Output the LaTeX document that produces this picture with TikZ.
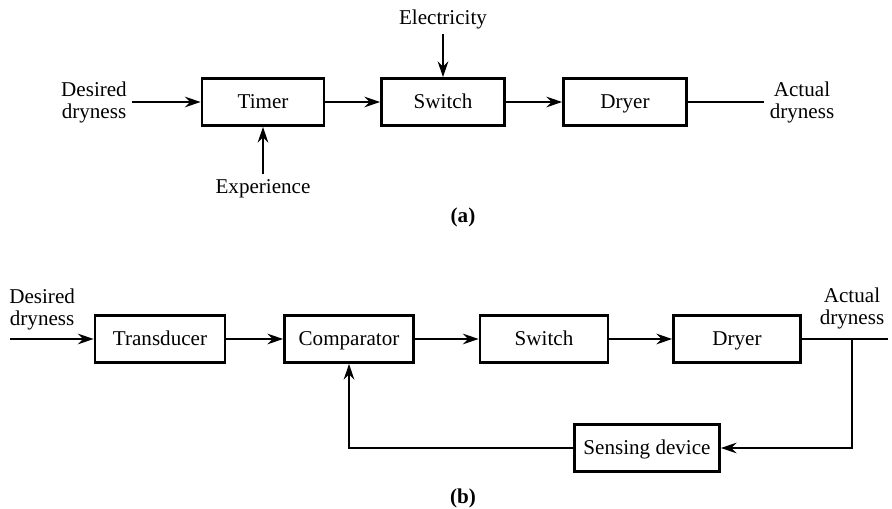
\documentclass[tikz,border=0pt]{standalone}
\usepackage{fontspec}
\setmainfont{Liberation Serif}
\usetikzlibrary{arrows.meta}

\begin{document}
\begin{tikzpicture}[x=0.02cm, y=-0.02cm, font=\fontsize{12}{12.5}\selectfont,
    blockbox/.style={draw, line width=1.5pt, minimum height=0.94cm, minimum width=#1,
      inner sep=2pt, text height=7.8pt, text depth=0pt},
    sig/.style={line width=1.5pt, -{Stealth[length=9pt, width=6pt, inset=3pt]}},
    wire/.style={line width=1.3pt},
    lbl/.style={align=center, inner sep=3pt}]

    \useasboundingbox (0,0) rectangle (892,509);

    % (a) open loop: timer, switch, dryer
    \node[blockbox=2.44cm] (timerA) at (263,102) {Timer};
    \node[blockbox=2.46cm] (switchA) at (443,102) {Switch};
    \node[blockbox=2.46cm] (dryerA) at (625,102) {Dryer};

    % (a) inputs and output
    \node[lbl] (desiredA) at (94,102) {Desired\\dryness};
    \node[lbl] (actualA) at (802,102) {Actual\\dryness};
    \node[lbl] (elecA) at (443,19) {Electricity};
    \node[lbl] (expA) at (263,189) {Experience};
    \node[font=\bfseries\fontsize{12}{12.5}\selectfont] (capA) at (463,217) {(a)};

    \draw[sig] (desiredA) -- (timerA);
    \draw[sig] (timerA) -- (switchA);
    \draw[sig] (switchA) -- (dryerA);
    \draw[wire] (dryerA) -- (actualA);
    \draw[sig] (elecA) -- (switchA);
    \draw[sig] (expA) -- (timerA);

    % (b) closed loop with sensing device
    \node[blockbox=2.6cm] (transB) at (160,339) {Transducer};
    \node[blockbox=2.58cm] (compB) at (349,339) {Comparator};
    \node[blockbox=2.56cm] (switchB) at (544,339) {Switch};
    \node[blockbox=2.54cm] (dryerB) at (737,339) {Dryer};
    \node[blockbox=2.9cm] (senseB) at (647,448) {Sensing device};

    \coordinate (inB) at (10,339);
    \coordinate (tapB) at (852,339);
    \coordinate (outB) at (888,339);

    \node[lbl, anchor=south west, inner sep=0pt] (desiredB) at (9,330) {Desired\\dryness};
    \node[lbl, anchor=south, inner sep=0pt] (actualB) at (852,329) {Actual\\dryness};
    \node[font=\bfseries\fontsize{12}{12.5}\selectfont] (capB) at (463,498) {(b)};

    \draw[sig] (inB) -- (transB);
    \draw[sig] (transB) -- (compB);
    \draw[sig] (compB) -- (switchB);
    \draw[sig] (switchB) -- (dryerB);
    \draw[wire] (dryerB) -- (outB);
    \draw[sig] (tapB) |- (senseB);
    \draw[sig] (senseB) -| (compB);

\end{tikzpicture}
\end{document}
